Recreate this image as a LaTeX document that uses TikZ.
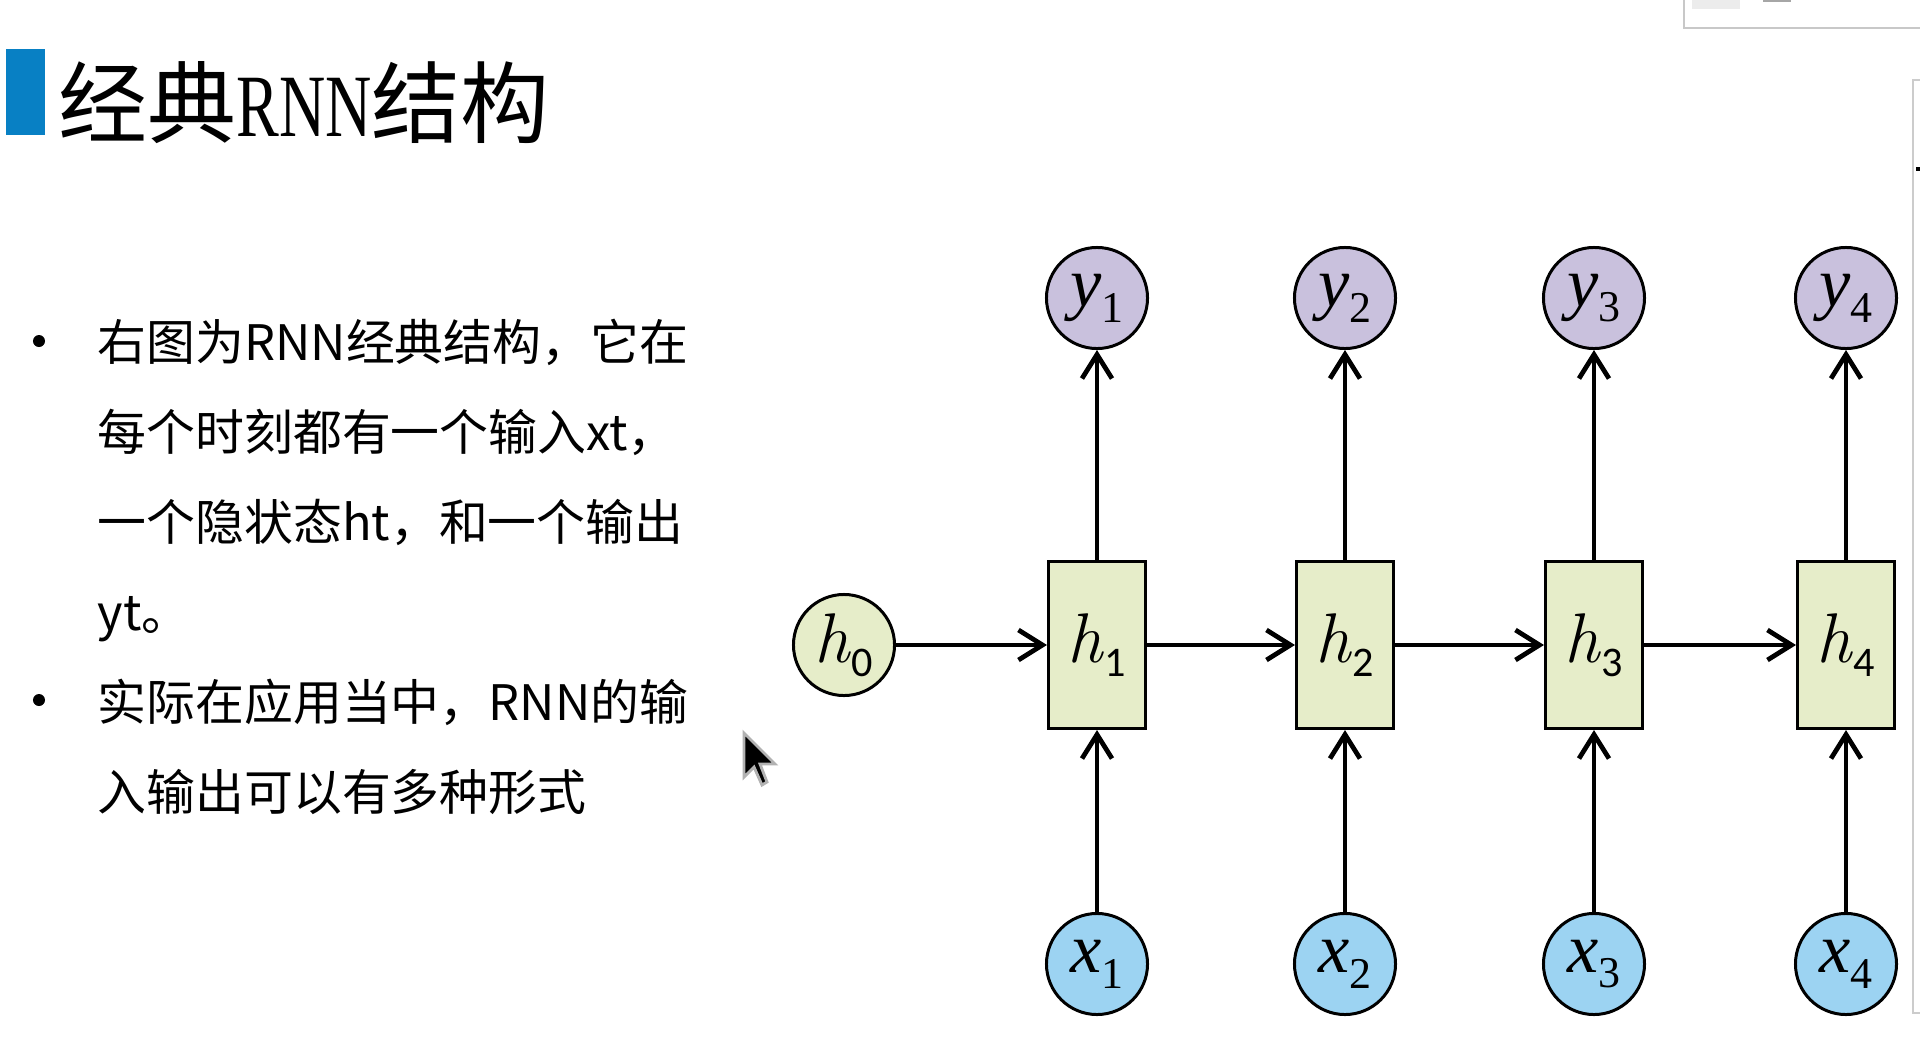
\documentclass[tikz,border=0pt]{standalone}
\usepackage{fontspec}
\usepackage{graphicx}
\newfontfamily\cjk{Noto Sans CJK SC}
\newfontfamily\labfont{Liberation Serif}
\newfontfamily\labit{Liberation Serif Italic}
\newfontfamily\subfont{Carlito}
\usetikzlibrary{arrows.meta}
\definecolor{titleblue}{RGB}{8,128,196}
\definecolor{hgreen}{RGB}{230,237,201}
\definecolor{ypurple}{RGB}{201,193,221}
\definecolor{xblue}{RGB}{156,211,242}
\definecolor{uigray}{RGB}{200,200,200}
\newcommand{\xylab}[2]{{\labit #1}\raisebox{-4.5pt}{\labfont\fontsize{12.5pt}{12pt}\selectfont #2}}
\newcommand{\hlab}[1]{\textit{h}\raisebox{-4pt}{\subfont\fontsize{12pt}{12pt}\selectfont #1}}

\begin{document}
\begin{tikzpicture}[x=0.01cm,y=-0.01cm,
  ynode/.style={circle,draw,line width=0.85pt,fill=ypurple,minimum size=1.01cm,inner sep=0pt,font=\fontsize{20pt}{20pt}\selectfont},
  xnode/.style={ynode,fill=xblue},
  hbox/.style={rectangle,draw,line width=0.85pt,fill=hgreen,minimum width=0.97cm,minimum height=1.67cm,inner sep=0pt,font=\fontsize{20pt}{20pt}\selectfont},
  link/.style={line width=1.35pt,-{Straight Barb[length=0.24cm,width=0.3cm]}},
  txtline/.style={anchor=base west,inner sep=0pt,font=\cjk\fontsize{13.9pt}{16pt}\selectfont}]
  \useasboundingbox[fill=white] (0,0) rectangle (1920,1045);
  % title
  \fill[titleblue] (6,49) rectangle (45,135);
  \node[anchor=base west,inner sep=0pt,font=\cjk\fontsize{25.3pt}{30pt}\selectfont] (title) at (58,136) {经典{\labfont\scalebox{0.72}[1]{RNN}}结构};
  % bullets
  \foreach \n/\yy in {1/341,2/700}
    \node[circle,fill,inner sep=0pt,minimum size=0.12cm] (dot\n) at (39,\yy) {};
  \node[txtline] (l1) at (97,360) {右图为RNN经典结构，它在};
  \node[txtline] (l2) at (97,450) {每个时刻都有一个输入xt，};
  \node[txtline] (l3) at (97,540) {一个隐状态ht，和一个输出};
  \node[txtline] (l4) at (97,630) {yt。};
  \node[txtline] (l5) at (97,720) {实际在应用当中，RNN的输};
  \node[txtline] (l6) at (97,810) {入输出可以有多种形式};
  % network
  \node[ynode,fill=hgreen] (h0) at (844,645) {\hlab{0}};
  \foreach \i/\xx in {1/1097,2/1345,3/1594,4/1846} {
    \node[hbox] (h\i) at (\xx,645) {\hlab{\i}};
    \node[ynode] (y\i) at (\xx,298) {\xylab{y}{\i}};
    \node[xnode] (x\i) at (\xx,964) {\xylab{x}{\i}};
    \draw[link] (x\i) -- (h\i);
    \draw[link] (h\i) -- (y\i);
  }
  \draw[link] (h0) -- (h1);
  \foreach \i/\j in {1/2,2/3,3/4}
    \draw[link] (h\i) -- (h\j);
  % screen bits
  \draw[uigray,line width=0.6pt] (1684,0) -- (1684,28) -- (1920,28);
  \fill[gray!15] (1692,0) rectangle (1740,9);
  \fill[gray!70] (1763,0) rectangle (1791,2);
  \draw[gray!40,line width=0.4pt] (1920,80) -- (1913,80) -- (1913,1013) -- (1920,1013);
  \fill[black] (1916,167) rectangle (1920,171);
  %\node at (760,760) {cursor};
  \filldraw[fill=black,draw=gray!60,line width=0.8pt] (744,733) -- ++(0,44) -- ++(10,-10) -- ++(8,18) -- ++(5,-3) -- ++(-7,-18) -- ++(15,0) -- cycle;
\end{tikzpicture}
\end{document}
